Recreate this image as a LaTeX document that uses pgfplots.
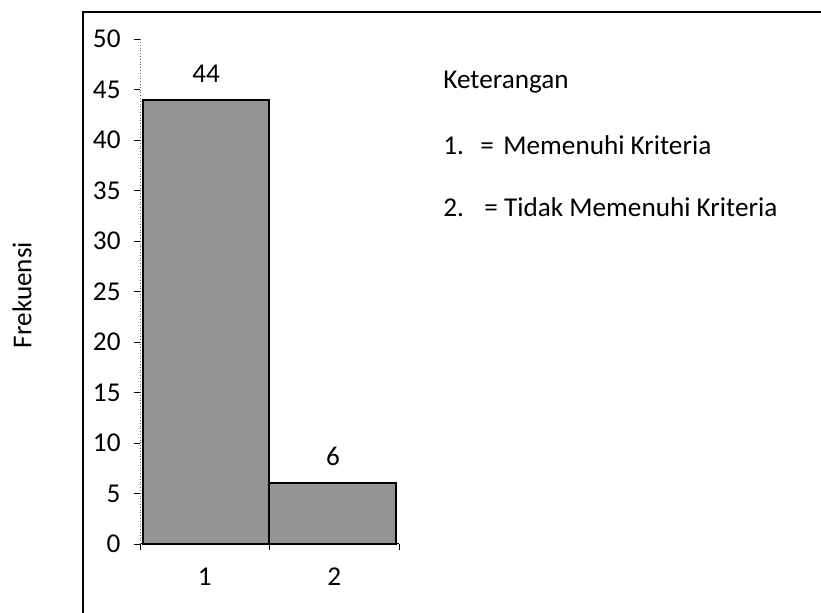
\documentclass[border=0pt]{standalone}
\usepackage{pgfplots}
\pgfplotsset{compat=1.18}
\usepackage{fontspec}
\setmainfont{Carlito}
\begin{document}
\fontsize{13.6}{16}\selectfont
\begin{tikzpicture}
\useasboundingbox (0pt,0pt) rectangle (410.5pt,306.5pt);
\draw[line width=1pt] (41.5pt,0pt) -- (41.5pt,300.5pt) -- (410.5pt,300.5pt);
\begin{axis}[
  at={(70pt,34.5pt)}, anchor=south west,
  scale only axis, width=129.5pt, height=252.5pt,
  xmin=0.5, xmax=2.5, ymin=0, ymax=50,
  axis x line=bottom, axis y line=left,
  x axis line style={-, line width=0.5pt},
  y axis line style={-, line width=0.4pt, black!60, densely dotted},
  xtick={1,2}, xticklabels={1,2},
  major x tick style={draw=none},
  minor xtick={0.5,1.5,2.5},
  minor x tick style={black, line width=0.4pt},
  ytick={0,5,...,50},
  y tick style={black, line width=0.4pt},
  tick align=outside, major tick length=3pt, minor tick length=3pt,
  xticklabel style={yshift=-6pt, anchor=base, text height=1.6ex, text depth=0pt, yshift=-12pt},
  yticklabel style={xshift=-2pt},
  /pgf/number format/assume math mode=true,
  ticklabel style={font=\fontsize{13.6}{16}\selectfont},
  clip=false,
  ybar, bar width=0.98,
]
\addplot[fill=black!42, draw=black, line width=1pt] coordinates {(1.01,44) (1.99,6)};
\node at (axis cs:1.01,46.6) {44};
\node at (axis cs:1.99,8.7) {6};
\end{axis}
\node[rotate=90] at (11pt,159pt) {Frekuensi};
\node[anchor=west, inner sep=0pt] at (221.5pt,265.5pt) {Keterangan};
\node[anchor=west, inner sep=0pt] at (221.5pt,234pt) {1.\hspace{0.6em}=\hspace{0.35em}Memenuhi Kriteria};
\node[anchor=west, inner sep=0pt] at (221.5pt,203pt) {2.\hspace{0.75em}= Tidak Memenuhi Kriteria};
\end{tikzpicture}
\end{document}
